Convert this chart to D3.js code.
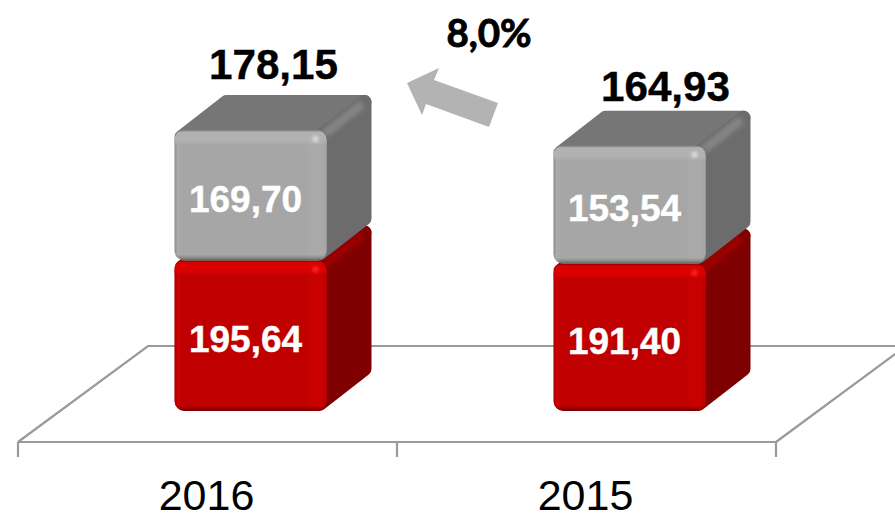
<!DOCTYPE html>
<html><head><meta charset="utf-8">
<script src="https://cdn.jsdelivr.net/npm/d3@7"></script>
<style>html,body{margin:0;padding:0;background:#fff}svg{display:block}</style>
</head><body><svg id="c" width="895" height="513"></svg>
<script>
const categories = ["2016", "2015"];
const seriesRed = [195.64, 191.40];
const seriesGray = [169.70, 153.54];
const totals = [178.15, 164.93];
const growthLabel = "8,0%";

const fmt = v => v.toFixed(2).replace(".", ",");
const svg = d3.select("#c");
const defs = svg.append("defs");
defs.append("filter").attr("id","b2").attr("filterUnits","userSpaceOnUse").attr("x",0).attr("y",0).attr("width",895).attr("height",513)
  .append("feGaussianBlur").attr("stdDeviation",2);
defs.append("filter").attr("id","b1").attr("x","-100%").attr("y","-100%").attr("width","300%").attr("height","300%")
  .append("feGaussianBlur").attr("stdDeviation",1.5);

const x = d3.scaleBand().domain(categories).range([18, 776]);
const y = d3.scaleLinear().domain([0, 365.34]).range([411, 130]);

// floor
const floorBackY = 346, floorFrontY = 442, floorDx = 130;
const floor = svg.append("g").attr("fill","none").attr("stroke","#9a9a9a").attr("stroke-width",2.2);
floor.append("path").attr("d", d3.line()([[18,floorFrontY],[18+floorDx,floorBackY],[897,floorBackY]]));
floor.append("path").attr("d", d3.line()([[776,floorFrontY],[776+floorDx,floorBackY]]));
floor.append("path").attr("d", d3.line()([[18,floorFrontY],[776,floorFrontY]]));
x.domain().forEach(c => floor.append("path").attr("d", d3.line()([[x(c),floorFrontY],[x(c),457]])));
floor.append("path").attr("d", d3.line()([[776,floorFrontY],[776,457]]));

// boxes
const barW = 152, depthX = 45, depthY = -35, rim = 7;
const palettes = {
  red:  {front:"#c00000", top:"#a80000", side:"#7f0000", edge:"#9c0000", bevel:"#dc0000", rimDark:"#700000", spot:"#f52020"},
  gray: {front:"#a6a6a6", top:"#767676", side:"#6c6c6c", edge:"#848484", bevel:"#b2b2b2", rimDark:"#5f5f5f", spot:"#d8d8d8"}
};
function gradient(id, horiz, len, stops){
  const g = defs.append("linearGradient").attr("id",id)
    .attr("x1",0).attr("y1",0).attr("x2",horiz?1:0).attr("y2",horiz?0:1);
  stops.forEach(([p,col,op]) => g.append("stop")
    .attr("offset",(p<0?len+p:p)/len).attr("stop-color",col).attr("stop-opacity",op));
}
function box(sel, id, x0, yTop, yBot, pal){
  const x1 = x0+barW, h = yBot-yTop;
  const ds = [[x1-rim,yTop+rim],[x1+depthX-rim,yTop+depthY+rim],[x1+depthX-rim,yBot+depthY-rim],[x1-rim,yBot-rim]];
  const dt = [[x0+rim,yTop+rim],[x0+depthX+rim,yTop+depthY+rim],[x1+depthX-rim,yTop+depthY+rim],[x1-rim,yTop+rim]];
  const poly = d3.line().curve(d3.curveLinearClosed);
  sel.append("path").attr("d",poly(dt)).attr("fill",pal.top).attr("stroke",pal.top).attr("stroke-width",rim*2).attr("stroke-linejoin","round");
  sel.append("path").attr("d",poly(ds)).attr("fill",pal.side).attr("stroke",pal.side).attr("stroke-width",rim*2).attr("stroke-linejoin","round");
  sel.append("path").attr("d",d3.line()([[x1-2,yTop+4],[x1+depthX-9,yTop+depthY+9]]))
    .attr("fill","none").attr("stroke",pal.edge).attr("stroke-width",9).attr("filter","url(#b2)");
  sel.append("rect").attr("x",x0).attr("y",yTop).attr("width",barW).attr("height",h).attr("rx",10).attr("fill",pal.front);
  gradient(id+"v",false,h,[[0,pal.rimDark,.5],[2,pal.bevel,1],[11,pal.bevel,.9],[15,pal.bevel,0],[-6,pal.rimDark,0],[-3,pal.rimDark,.35],[h,pal.rimDark,1]]);
  gradient(id+"h",true,barW,[[0,pal.rimDark,.3],[3,pal.bevel,.5],[7,pal.bevel,0],[-20,pal.bevel,0],[-16,pal.bevel,.3],[-6,pal.bevel,.3],[-2,pal.front,.6],[barW,pal.front,1]]);
  sel.append("rect").attr("x",x0).attr("y",yTop).attr("width",barW).attr("height",h).attr("rx",10).attr("fill",`url(#${id}h)`);
  sel.append("rect").attr("x",x0).attr("y",yTop).attr("width",barW).attr("height",h).attr("rx",10).attr("fill",`url(#${id}v)`);
  sel.append("circle").attr("cx",x1-11).attr("cy",yTop+9).attr("r",3.2).attr("fill",pal.spot).attr("filter","url(#b1)");
}

const boxOffset = 43 - barW/2;
categories.forEach((c,i) => {
  const x0 = x(c) + x.bandwidth()/2 + boxOffset;
  const g = svg.append("g");
  const yMid = y(seriesRed[i]), yTop = y(seriesRed[i]+seriesGray[i]);
  box(g, "r"+i, x0, yMid, y(0), palettes.red);
  box(g, "g"+i, x0, yTop, yMid, palettes.gray);
  const sans = "'Liberation Sans', Arial, sans-serif";
  const lab = (v, yc) => svg.append("text").attr("x",x0+barW/2-5).attr("y",yc+16.5)
    .attr("text-anchor","middle").attr("font-family",sans).attr("font-weight",700)
    .attr("font-size",37).attr("fill","#fff").attr("stroke","#fff").attr("stroke-width",.4).text(fmt(v));
  lab(seriesRed[i], (yMid+y(0))/2);
  lab(seriesGray[i], (yTop+yMid)/2);
  const tot = [{dx:23,base:79},{dx:36,base:101}][i];
  svg.append("text").attr("x",x0+barW/2+tot.dx).attr("y",tot.base)
    .attr("text-anchor","middle").attr("font-family",sans).attr("font-weight",700)
    .attr("font-size",42.2).attr("fill","#000").attr("stroke","#000").attr("stroke-width",.4).text(fmt(totals[i]));
  svg.append("text").attr("x",x(c)+x.bandwidth()/2-1).attr("y",510)
    .attr("text-anchor","middle").attr("font-family",sans)
    .attr("font-size",43).attr("fill","#000").text(c);
});

// growth arrow and label
svg.append("path").attr("d","M407,83L439,68L434,80L498,103L489,127L426,104L422,115Z").attr("fill","#b3b3b3");
svg.append("text").attr("x",489).attr("y",47).attr("text-anchor","middle")
  .attr("font-family","Lato, 'Open Sans', sans-serif").attr("font-weight",700)
  .attr("font-size",38.5).attr("fill","#000").attr("stroke","#000").attr("stroke-width",.9).text(growthLabel);
</script></body></html>
